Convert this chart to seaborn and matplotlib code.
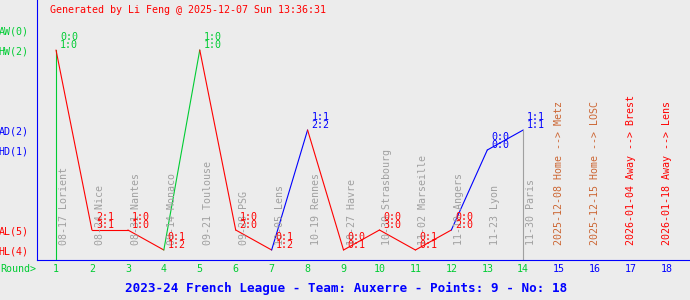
import matplotlib
matplotlib.use("Agg")
import matplotlib.pyplot as plt
import seaborn as sns
import pandas as pd

# ---------------- data ----------------
rounds = list(range(1, 15))
dates = ['08-17', '08-24', '08-31', '09-14', '09-21', '09-28', '10-05',
         '10-19', '10-27', '10-30', '11-02', '11-10', '11-23', '11-30']
opponents = ['Lorient', 'Nice', 'Nantes', 'Monaco', 'Toulouse', 'PSG', 'Lens',
             'Rennes', 'Havre', 'Strasbourg', 'Marseille', 'Angers', 'Lyon', 'Paris']
results = ['HW', 'AL', 'AL', 'HL', 'HW', 'AL', 'HL', 'AD', 'HL', 'AL', 'HL', 'AL', 'HD', 'AD']
half_scores = ['0:0', '2:1', '1:0', '0:1', '1:0', '1:0', '0:1', '1:1', '0:0', '0:0', '0:1', '0:0', '0:0', '1:1']
full_scores = ['1:0', '3:1', '1:0', '1:2', '1:0', '2:0', '1:2', '2:2', '0:1', '3:0', '0:1', '2:0', '0:0', '1:1']

future_rounds = [15, 16, 17, 18]
future_dates = ['2025-12-08', '2025-12-15', '2026-01-04', '2026-01-18']
future_venues = ['Home', 'Home', 'Away', 'Away']
future_opponents = ['Metz', 'LOSC', 'Brest', 'Lens']

level_codes = ['HL', 'AL', 'HD', 'AD', 'HW', 'AW']
level_labels = ['HL(4)', 'AL(5)', 'HD(1)', 'AD(2)', 'HW(2)', 'AW(0)']

title = '2023-24 French League - Team: Auxerre - Points: 9 - No: 18'
stamp = 'Generated by Li Feng @ 2025-12-07 Sun 13:36:31'

# ---------------- styles ----------------
BG = '#ececec'
GREEN = '#00cc33'
BLUE = '#0000ff'
RED = '#ff0000'
GRAY = '#a0a0a0'
BROWN = '#cc6633'
level_y = {'HL': 10, 'AL': 30, 'HD': 110, 'AD': 130, 'HW': 210, 'AW': 230}
res_color = {'W': GREEN, 'D': BLUE, 'L': RED}
LW = 0.8

sns.set_style("white", rc={"axes.facecolor": BG, "figure.facecolor": BG})
plt.rcParams['font.family'] = ['DejaVu Sans Mono', 'DejaVu Sans']
FS = 7.2

fig = plt.figure(figsize=(6.9, 3.0), dpi=100)
ax = fig.add_axes([37 / 690, 40 / 300, 653 / 690, 260 / 300])
ax.set_facecolor(BG)

px = 35.94  # pixels per round
ax.set_xlim(1 - 19 / px, 18 + 23 / px)
ax.set_ylim(0, 260)

df = pd.DataFrame({'round': rounds, 'res': results,
                   'y': [level_y[r] for r in results]})

# first-round vertical line
sns.lineplot(x=[df['round'][0]] * 2, y=[0, df['y'][0]], color=res_color[results[0][1]],
             lw=LW, ax=ax, estimator=None, sort=False)
# segments coloured by the result of the arrival round
for i in range(1, len(df)):
    sns.lineplot(x=[df['round'][i - 1], df['round'][i]], y=[df['y'][i - 1], df['y'][i]],
                 color=res_color[results[i][1]], lw=LW, ax=ax, estimator=None, sort=False)
# last-round grey marker line
sns.lineplot(x=[df['round'].iloc[-1]] * 2, y=[0, df['y'].iloc[-1]], color=GRAY,
             lw=LW, ax=ax, estimator=None, sort=False)

# date / opponent labels
for r, d, o in zip(rounds, dates, opponents):
    ax.text(r + 8 / px, 15, f'{d} {o}', rotation=90, ha='center', va='bottom',
            color=GRAY, fontsize=FS)

# score labels
for r, res, h, f in zip(rounds, results, half_scores, full_scores):
    y = level_y[res]
    c = res_color[res[1]]
    ax.text(r + 4 / px, y + 9.5, h, ha='left', va='baseline', color=c, fontsize=FS)
    ax.text(r + 4 / px, y + 1.5, f, ha='left', va='baseline', color=c, fontsize=FS)

# future fixtures
for r, d, v, o in zip(future_rounds, future_dates, future_venues, future_opponents):
    ax.text(r, 15, f'{d} {v} --> {o}', rotation=90, ha='center', va='bottom',
            color=BROWN if v == 'Home' else RED, fontsize=FS)

# axes styling
for s in ['top', 'right']:
    ax.spines[s].set_visible(False)
for s in ['left', 'bottom']:
    ax.spines[s].set_color(BLUE)
    ax.spines[s].set_linewidth(LW)

all_rounds = rounds + future_rounds
ax.set_xticks(all_rounds)
ax.set_xticklabels([str(r) for r in all_rounds], fontsize=FS)
for lbl, r in zip(ax.get_xticklabels(), all_rounds):
    lbl.set_color(GREEN if r in rounds else BLUE)
ax.set_yticks([level_y[c] for c in level_codes])
ax.set_yticklabels(level_labels, fontsize=FS)
for lbl, c in zip(ax.get_yticklabels(), level_codes):
    lbl.set_color(GREEN if c[1] == 'W' else (BLUE if c[1] == 'D' else RED))
ax.tick_params(axis='both', direction='in', length=4, width=LW, color=BLUE)
ax.tick_params(axis='x', pad=3)
ax.tick_params(axis='y', pad=6)
ax.set_xlabel('')
ax.set_ylabel('')

fig.text(0 / 690, 1 - 269 / 300, 'Round>', color=GREEN, fontsize=FS, ha='left', va='center')
fig.text(346 / 690, 1 - 288 / 300, title, color=BLUE, fontsize=9.1, fontweight='bold',
         ha='center', va='center')
fig.text(50 / 690, 1 - 10 / 300, stamp, color=RED, fontsize=FS, ha='left', va='center')

fig.savefig('out.png', dpi=100, facecolor=BG)
